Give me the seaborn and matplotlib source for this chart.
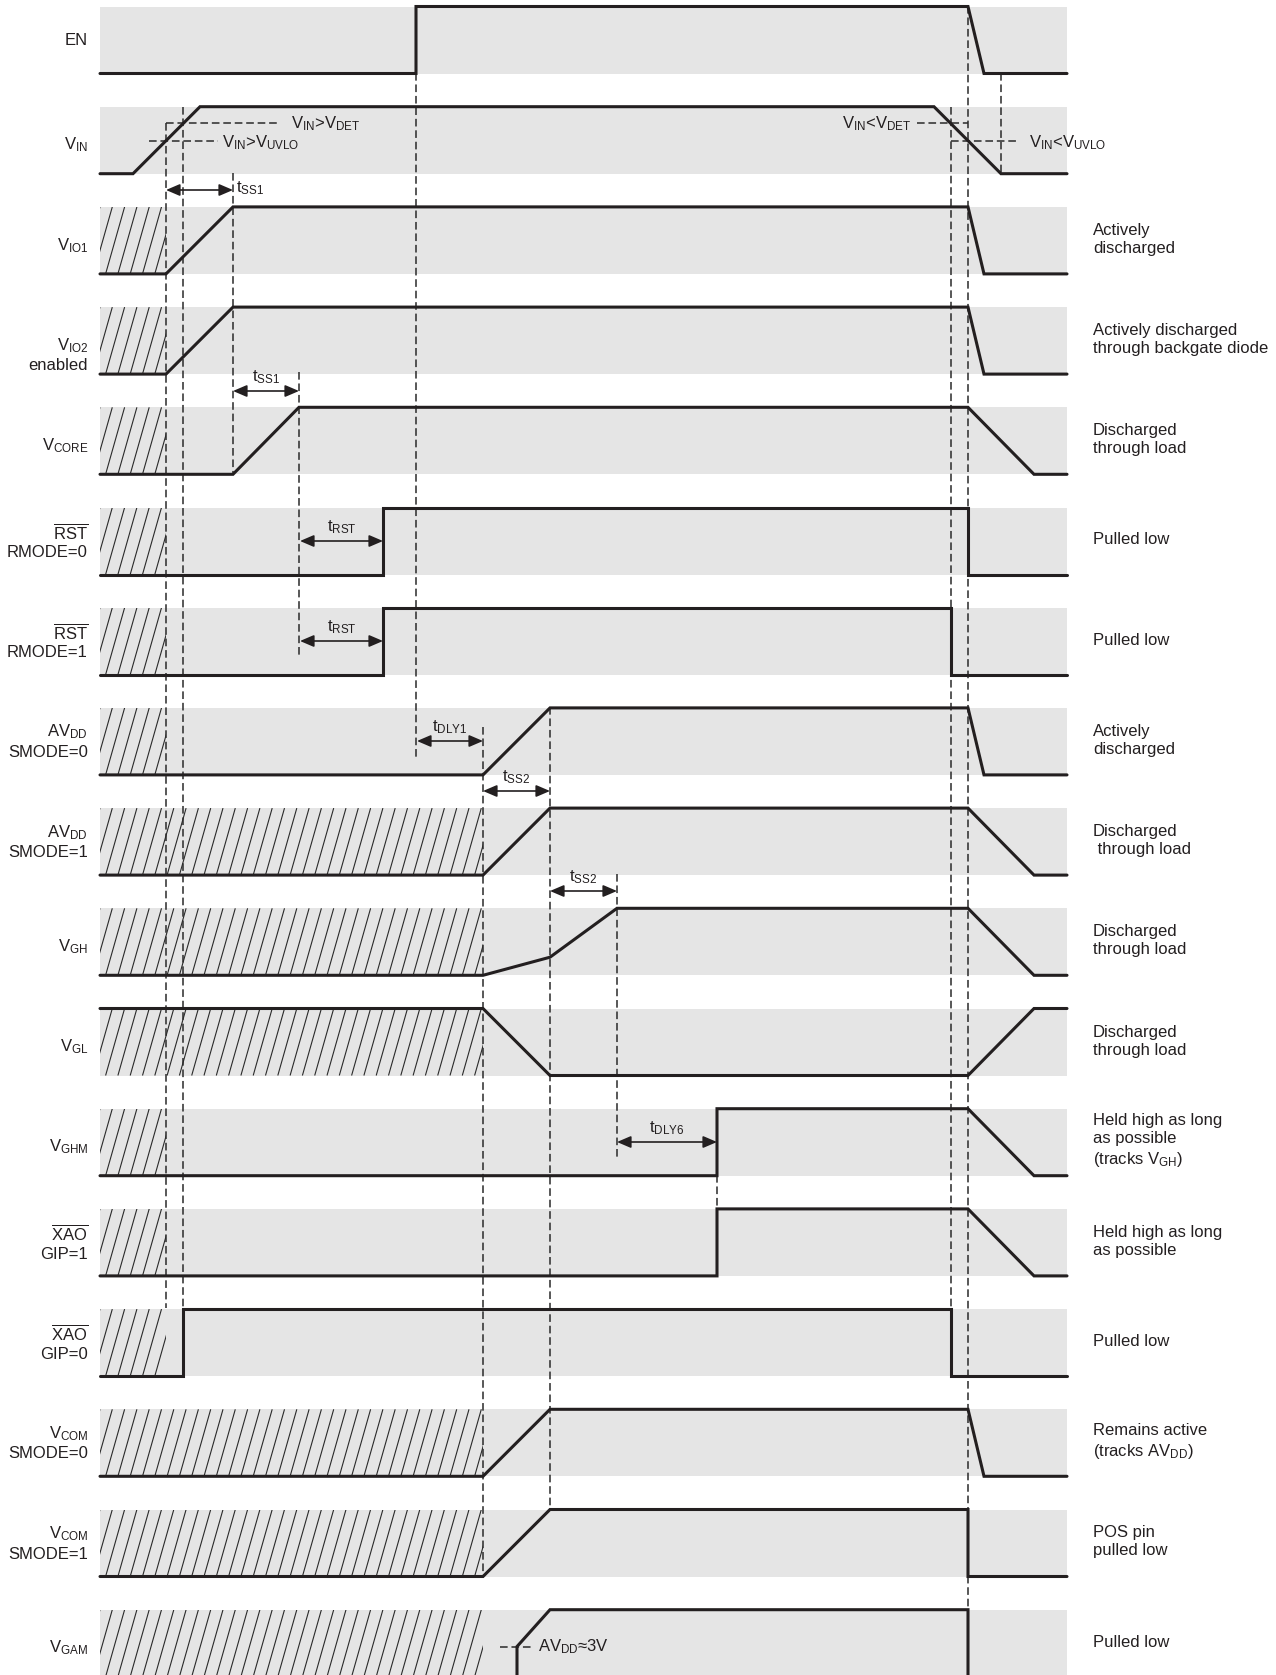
import matplotlib
matplotlib.use("Agg")
import matplotlib.pyplot as plt
import seaborn as sns
import numpy as np
import pandas as pd
from matplotlib.collections import LineCollection
from matplotlib.patches import Rectangle

# ---- data: time points (arbitrary time units) and logic levels (0 low, 1 high)
en_t = [100, 416, 416, 968, 984, 1067]
en_v = [0, 0, 1, 1, 0, 0]
vin_t = [100, 133, 200, 934, 1001, 1067]
vin_v = [0, 0, 1, 1, 0, 0]
vio1_t = [100, 166, 233, 968, 984, 1067]
vio1_v = [0, 0, 1, 1, 0, 0]
vio2_t = [100, 166, 233, 968, 984, 1067]
vio2_v = [0, 0, 1, 1, 0, 0]
vcore_t = [100, 233, 299, 968, 1034, 1067]
vcore_v = [0, 0, 1, 1, 0, 0]
rst0_t = [100, 383, 383, 968, 968, 1067]
rst0_v = [0, 0, 1, 1, 0, 0]
rst1_t = [100, 383, 383, 951, 951, 1067]
rst1_v = [0, 0, 1, 1, 0, 0]
avdd0_t = [100, 483, 550, 968, 984, 1067]
avdd0_v = [0, 0, 1, 1, 0, 0]
avdd1_t = [100, 483, 550, 968, 1034, 1067]
avdd1_v = [0, 0, 1, 1, 0, 0]
vgh_t = [100, 483, 550, 617, 968, 1034, 1067]
vgh_v = [0, 0, 0.27, 1, 1, 0, 0]
vgl_t = [100, 483, 550, 968, 1034, 1067]
vgl_v = [1, 1, 0, 0, 1, 1]
vghm_t = [100, 717, 717, 968, 1034, 1067]
vghm_v = [0, 0, 1, 1, 0, 0]
xao1_t = [100, 717, 717, 968, 1034, 1067]
xao1_v = [0, 0, 1, 1, 0, 0]
xao0_t = [100, 183, 183, 951, 951, 1067]
xao0_v = [0, 0, 1, 1, 0, 0]
vcom0_t = [100, 483, 550, 968, 984, 1067]
vcom0_v = [0, 0, 1, 1, 0, 0]
vcom1_t = [100, 483, 550, 968, 968, 1067]
vcom1_v = [0, 0, 1, 1, 0, 0]
vgam_t = [517, 517, 550, 968, 968]
vgam_v = [0, 0.45, 1, 1, 0]

signal_names = [
    "EN", "V$_{\\mathrm{IN}}$", "V$_{\\mathrm{IO1}}$", "V$_{\\mathrm{IO2}}$\nenabled",
    "V$_{\\mathrm{CORE}}$", "$\\overline{\\mathrm{RST}}$\nRMODE=0",
    "$\\overline{\\mathrm{RST}}$\nRMODE=1", "AV$_{\\mathrm{DD}}$\nSMODE=0",
    "AV$_{\\mathrm{DD}}$\nSMODE=1", "V$_{\\mathrm{GH}}$", "V$_{\\mathrm{GL}}$",
    "V$_{\\mathrm{GHM}}$", "$\\overline{\\mathrm{XAO}}$\nGIP=1",
    "$\\overline{\\mathrm{XAO}}$\nGIP=0", "V$_{\\mathrm{COM}}$\nSMODE=0",
    "V$_{\\mathrm{COM}}$\nSMODE=1", "V$_{\\mathrm{GAM}}$",
]
notes = [
    "", "", "Actively\ndischarged", "Actively discharged\nthrough backgate diode",
    "Discharged\nthrough load", "Pulled low", "Pulled low", "Actively\ndischarged",
    "Discharged\n through load", "Discharged\nthrough load", "Discharged\nthrough load",
    "Held high as long\nas possible\n(tracks V$_{\\mathrm{GH}}$)",
    "Held high as long\nas possible", "Pulled low",
    "Remains active\n(tracks AV$_{\\mathrm{DD}}$)", "POS pin\npulled low", "Pulled low",
]
# end of the "don't care" (hatched) interval per row, 0 = none
hatch_end = [0, 0, 166, 166, 166, 166, 166, 166, 483, 483, 483, 166, 166, 166, 483, 483, 483]

# timing intervals
span_start = [166, 233, 300, 300, 417, 483, 550, 617]
span_end = [233, 299, 383, 383, 483, 550, 617, 717]
span_y = [190, 391, 541, 641, 741, 791, 891, 1142]
span_names = ["t$_{\\mathrm{SS1}}$", "t$_{\\mathrm{SS1}}$", "t$_{\\mathrm{RST}}$",
              "t$_{\\mathrm{RST}}$", "t$_{\\mathrm{DLY1}}$", "t$_{\\mathrm{SS2}}$",
              "t$_{\\mathrm{SS2}}$", "t$_{\\mathrm{DLY6}}$"]

# dashed guide lines: time, from y, to y
guide_t = [166, 183, 233, 299, 416, 483, 550, 617, 717, 951, 968, 1001]
guide_y0 = [123, 107, 173, 372, 73, 727, 707, 874, 1175, 107, 6, 73]
guide_y1 = [1308, 1308, 474, 657, 757, 1575, 1509, 1158, 1209, 1308, 1675, 173]

vdet_level = 0.75
vuvlo_level = 0.49
gam_level = 0.45

series = [(en_t, en_v), (vin_t, vin_v), (vio1_t, vio1_v), (vio2_t, vio2_v),
          (vcore_t, vcore_v), (rst0_t, rst0_v), (rst1_t, rst1_v), (avdd0_t, avdd0_v),
          (avdd1_t, avdd1_v), (vgh_t, vgh_v), (vgl_t, vgl_v), (vghm_t, vghm_v),
          (xao1_t, xao1_v), (xao0_t, xao0_v), (vcom0_t, vcom0_v), (vcom1_t, vcom1_v),
          (vgam_t, vgam_v)]

# ---- layout
PITCH = 100.2
TOP0 = 6.5
BAND = 67.0
X0, X1 = 100, 1067
INK = "#231f20"


def row_y(row, level):
    return TOP0 + PITCH * row + BAND * (1 - np.asarray(level, dtype=float))


sns.set_theme(style="white")
plt.rcParams["font.family"] = ["Liberation Sans", "DejaVu Sans"]
plt.rcParams["mathtext.fontset"] = "custom"
plt.rcParams["mathtext.rm"] = "Liberation Sans"
plt.rcParams["mathtext.it"] = "Liberation Sans:italic"
plt.rcParams["mathtext.bf"] = "Liberation Sans:bold"

fig = plt.figure(figsize=(12.76, 16.75), dpi=100)
ax = fig.add_axes([0, 0, 1, 1])
ax.set_xlim(0, 1276)
ax.set_ylim(1675, 0)
ax.axis("off")

rows = []
for i, (t, v) in enumerate(series):
    top = TOP0 + PITCH * i
    mid = top + BAND / 2
    ax.add_patch(Rectangle((X0, top), X1 - X0, BAND, fc="#e5e5e5", ec="none", zorder=0))
    if hatch_end[i]:
        clip = Rectangle((X0, top), hatch_end[i] - X0, BAND, fc="none", ec="none")
        ax.add_patch(clip)
        segs = [[(xb, top + BAND), (xb + 19, top)]
                for xb in np.arange(X0 - 19, hatch_end[i] + 12, 12.3)]
        lc = LineCollection(segs, colors="#2a2a2a", linewidths=0.8, zorder=1)
        ax.add_collection(lc)
        lc.set_clip_path(clip)
    for k, (tt, vv) in enumerate(zip(t, v)):
        rows.append({"signal": i, "order": k, "t": tt, "y": float(row_y(i, vv))})

    name = signal_names[i]
    if "\n" in name:
        ax.text(88, mid + (14 if i == 3 else 0), name, ha="right", va="center",
                fontsize=12, color=INK, linespacing=1.3)
    elif "$" in name:
        ax.text(88, mid + 9.5, name, ha="right", va="baseline", fontsize=12, color=INK)
    else:
        ax.text(88, mid + 5, name, ha="right", va="baseline", fontsize=12, color=INK)
    if notes[i]:
        ax.text(1093, mid - 1, notes[i], ha="left", va="center",
                fontsize=12, color=INK, linespacing=1.25)

df = pd.DataFrame(rows)
sns.lineplot(data=df, x="t", y="y", units="signal", estimator=None, sort=False,
             color=INK, linewidth=2.2, ax=ax, legend=False, zorder=4)
for ln in ax.lines:
    ln.set_solid_joinstyle("miter")

# dashed guides
ax.vlines(guide_t, guide_y0, guide_y1, colors="#2a2a2a", linestyles=(0, (5, 2.5)),
          linewidth=1.1, zorder=3)

# VIN thresholds
ydet = float(row_y(1, vdet_level))
yuv = float(row_y(1, vuvlo_level))
dash = dict(color="#2a2a2a", ls=(0, (5, 2.5)), lw=1.1, zorder=3)
ax.plot([166, 280], [ydet, ydet], **dash)
ax.plot([149, 218], [yuv, yuv], **dash)
ax.plot([917, 968], [ydet, ydet], **dash)
ax.plot([951, 1018], [yuv, yuv], **dash)
ax.text(291, ydet, "V$_{\\mathrm{IN}}$>V$_{\\mathrm{DET}}$", ha="left", va="center", fontsize=12, color=INK)
ax.text(222, yuv + 2, "V$_{\\mathrm{IN}}$>V$_{\\mathrm{UVLO}}$", ha="left", va="center", fontsize=12, color=INK)
ax.text(911, ydet, "V$_{\\mathrm{IN}}$<V$_{\\mathrm{DET}}$", ha="right", va="center", fontsize=12, color=INK)
ax.text(1029, yuv + 2, "V$_{\\mathrm{IN}}$<V$_{\\mathrm{UVLO}}$", ha="left", va="center", fontsize=12, color=INK)

# VGAM threshold
ygam = float(row_y(16, gam_level))
ax.plot([500, 533], [ygam, ygam], **dash)
ax.text(538, ygam, "AV$_{\\mathrm{DD}}$\u22483V", ha="left", va="center", fontsize=12, color=INK)

# timing arrows
for k in range(len(span_start)):
    y = span_y[k]
    ax.annotate("", xy=(span_end[k], y), xytext=(span_start[k], y),
                arrowprops=dict(arrowstyle="<|-|>,head_length=0.7,head_width=0.3",
                                mutation_scale=12, lw=1.2, color=INK,
                                shrinkA=0, shrinkB=0), zorder=5)
    if k == 0:
        ax.text(span_end[k] + 3, y - 2, span_names[k], ha="left", va="center",
                fontsize=12, color=INK)
    else:
        ax.text((span_start[k] + span_end[k]) / 2, y - 14, span_names[k],
                ha="center", va="center", fontsize=12, color=INK)

fig.savefig("out.png", dpi=100)
